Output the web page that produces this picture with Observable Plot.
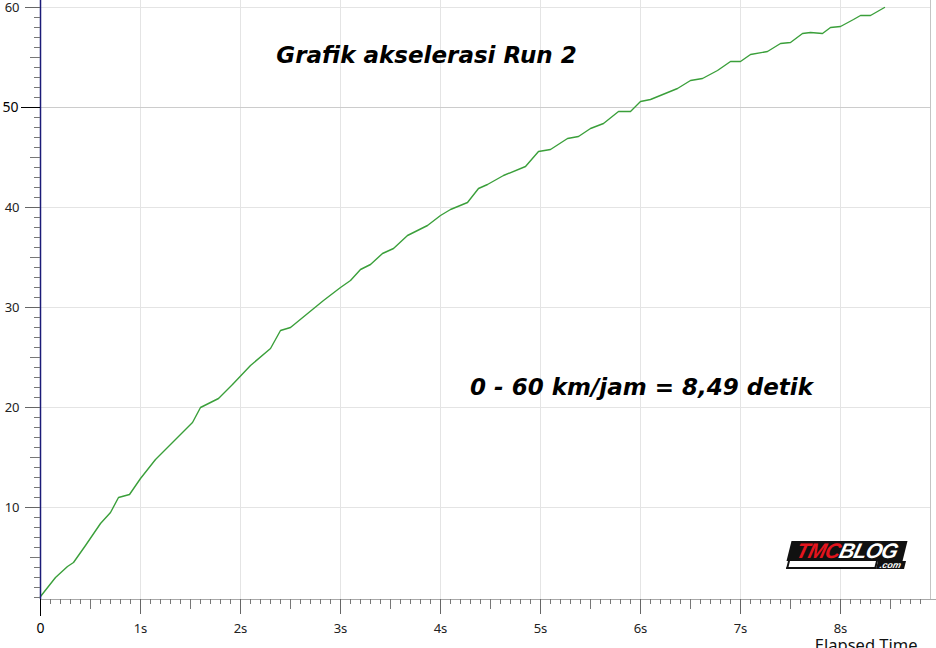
<!DOCTYPE html>
<html><head><meta charset="utf-8">
<script src="https://cdn.jsdelivr.net/npm/d3@7"></script>
<script src="https://cdn.jsdelivr.net/npm/@observablehq/plot@0.6"></script>
<style>
body{margin:0;background:#fff;overflow:hidden}
#wrap{position:relative;width:936px;height:648px;overflow:hidden}
.logo{position:absolute;left:789px;top:541px;width:116px;height:28px}
.logo .top{background:#111;transform:skewX(-14deg);height:20px;font:italic 900 21px/20px "Liberation Sans",Arial,sans-serif;letter-spacing:-0.8px;padding:0 2px;white-space:nowrap;text-align:center}
.logo .tmc{color:#e3141d}
.logo .blog{color:#fff}
.logo .bottom{display:flex;transform:skewX(-14deg);height:8px;margin-top:0}
.logo .bar{flex:1;background:#fff;border:2px solid #111;border-top:none;margin-left:-2px}
.logo .com{background:#111;color:#fff;font:italic 700 9px/8px "Liberation Sans",Arial,sans-serif;padding:0 4px 1px 3px}
</style></head><body><div id="wrap"></div>
<script>
// elapsed time (s) and speed (km/h)
const times  = [0, 0.15, 0.27, 0.33, 0.45, 0.6, 0.7, 0.78, 0.89, 1.0,
                1.15, 1.3, 1.52, 1.6, 1.78, 1.92, 2.1, 2.3, 2.4, 2.5,
                2.83, 3.0, 3.1, 3.2, 3.3, 3.42, 3.53, 3.67, 3.87, 4.0,
                4.1, 4.27, 4.38, 4.47, 4.63, 4.85, 4.98, 5.1, 5.27, 5.38,
                5.5, 5.63, 5.78, 5.9, 6.0, 6.1, 6.37, 6.5, 6.62, 6.77,
                6.9, 7.0, 7.1, 7.27, 7.4, 7.5, 7.62, 7.7, 7.82, 7.9,
                8.0, 8.13, 8.2, 8.3, 8.44];
const speeds = [1.1, 3.0, 4.1, 4.5, 6.2, 8.4, 9.5, 11.0, 11.3, 12.9,
                14.8, 16.3, 18.5, 20.0, 20.9, 22.3, 24.2, 25.9, 27.7, 28.0,
                30.7, 32.0, 32.7, 33.8, 34.3, 35.4, 35.9, 37.2, 38.2, 39.2,
                39.8, 40.5, 41.9, 42.3, 43.2, 44.1, 45.6, 45.8, 46.9, 47.1,
                47.9, 48.4, 49.6, 49.6, 50.6, 50.8, 51.9, 52.7, 52.9, 53.7,
                54.6, 54.6, 55.3, 55.6, 56.4, 56.5, 57.4, 57.5, 57.4, 58.0,
                58.1, 58.8, 59.2, 59.2, 60.0];
const xMajorTicks = [1, 2, 3, 4, 5, 6, 7, 8];
const xTickLabels = ["1s", "2s", "3s", "4s", "5s", "6s", "7s", "8s"];
const yMajorTicks = [10, 20, 30, 40, 60];
const yTickLabels = ["10", "20", "30", "40", "60"];
const yHighlightTick = [50];
const titleText = "Grafik akselerasi Run 2";
const noteText = "0 - 60 km/jam = 8,49 detik";
const xAxisTitle = "Elapsed Time";

const data = times.map((t, i) => ({t, v: speeds[i]}));
const xMinor = d3.range(1, 89).map(i => i / 10).filter((v, i) => (i + 1) % 5 !== 0);
const xMid = d3.range(0, 9).map(i => i + 0.5).filter(v => v < 8.9);
const yMinor = d3.range(1, 60).filter(v => v % 5 !== 0);
const yMid = d3.range(5, 60, 10);
const font = "'Noto Sans', 'Open Sans', sans-serif";
const annoFont = "'DejaVu Sans', sans-serif";

const chart = Plot.plot({
  width: 936, height: 648,
  marginLeft: 40, marginRight: 6, marginTop: 0, marginBottom: 49,
  x: {domain: [0, 8.9], axis: null, label: null},
  y: {domain: [0.8, 60.7], axis: null, label: null},
  style: {fontFamily: font, fontSize: "13px", background: "#fff", overflow: "visible"},
  marks: [
    Plot.ruleX(xMajorTicks, {stroke: "#e4e4e4"}),
    Plot.ruleY(yMajorTicks, {stroke: "#e4e4e4"}),
    Plot.ruleY(yHighlightTick, {stroke: "#cccccc"}),
    Plot.ruleX([8.9], {stroke: "#c4c4c4"}),
    Plot.ruleY([0.8], {x1: 0, x2: 8.96, stroke: "#a8a8a8"}),
    Plot.line(data, {x: "t", y: "v", stroke: "#3a9f3a", strokeWidth: 1.4}),
    Plot.ruleX([0], {stroke: "#1b1b78", strokeWidth: 1.5}),
    Plot.axisX(xMinor, {tickSize: 5, tickFormat: () => "", stroke: "#777", label: null}),
    Plot.axisX(xMid, {tickSize: 10, tickFormat: () => "", stroke: "#777", label: null}),
    Plot.axisX(xMajorTicks, {tickSize: 15, tickPadding: 9, stroke: "#666", fill: "#222",
      tickFormat: d => xTickLabels[xMajorTicks.indexOf(d)], label: null}),
    Plot.axisX([0], {tickSize: 17, tickPadding: 7, stroke: "#000", fill: "#000",
      tickFormat: () => "0", fontSize: 14, label: null}),
    Plot.axisY(yMinor, {tickSize: 6, tickFormat: () => "", stroke: "#777", label: null}),
    Plot.axisY(yMid, {tickSize: 10, tickFormat: () => "", stroke: "#777", label: null}),
    Plot.axisY(yMajorTicks, {tickSize: 15, tickPadding: 6, stroke: "#666", fill: "#222",
      tickFormat: d => yTickLabels[yMajorTicks.indexOf(d)], label: null}),
    Plot.axisY(yHighlightTick, {tickSize: 19, tickPadding: 3, stroke: "#000", fill: "#000",
      fontSize: 14, tickFormat: d => String(d), label: null}),
    Plot.text([titleText], {x: 3.86, y: 55.2, text: d => d, fontSize: 23, fontStyle: "oblique",
      fontWeight: "bold", fill: "#000", fontFamily: annoFont}),
    Plot.text([noteText], {x: 6.01, y: 22.0, text: d => d, fontSize: 23, fontStyle: "oblique",
      fontWeight: "bold", fill: "#000", fontFamily: annoFont}),
    Plot.text([xAxisTitle], {x: 8.77, y: -3.85, text: d => d, textAnchor: "end", fontSize: 16.5,
      fill: "#111", clip: false})
  ]
});
const wrap = document.getElementById("wrap");
wrap.appendChild(chart);
const logo = document.createElement("div");
logo.className = "logo";
logo.innerHTML = '<div class="top"><span class="tmc">TMC</span><span class="blog">BLOG</span></div>' +
  '<div class="bottom"><span class="bar"></span><span class="com">.com</span></div>';
wrap.appendChild(logo);
</script>
</body></html>
